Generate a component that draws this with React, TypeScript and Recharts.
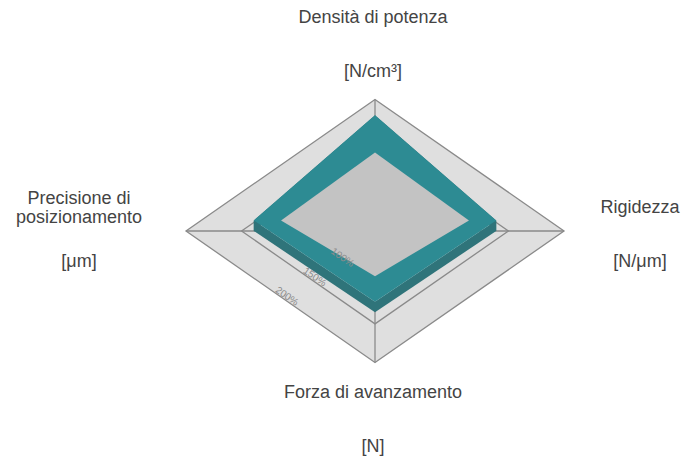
import { RadarChart, Radar, PolarAngleAxis, PolarRadiusAxis } from 'recharts'

// assi del radar (in senso orario dall'alto)
const axes = ['Densità di potenza', 'Rigidezza', 'Forza di avanzamento', 'Precisione di posizionamento']
const units = ['[N/cm³]', '[N/μm]', '[N]', '[μm]']

// valori in % (stimati dal grafico)
const nuovo = [166, 139, 135, 139]
const attuale = [118, 114.5, 102, 114.5]

// anelli della griglia
const rings = [200, 150, 100]

const W = 685
const H = 456
const CX = 375
const CY = 231
const R = 189
const SQUASH = 0.696 // vista in prospettiva: asse verticale schiacciato
const LIFT = 10.5 // spessore della lastra
const FONT = '"Liberation Sans", Arial, Helvetica, sans-serif'

// posizione delle etichette degli assi rispetto al centro
const LABEL_POS: [number, number][] = [[-2, -182], [265, 8], [-2, 193], [-296, 8]]

const data = axes.map((name, i) => {
  const row: Record<string, string | number> = { name, nuovo: nuovo[i], attuale: attuale[i] }
  rings.forEach(r => { row['r' + r] = r })
  return row
})

type Pt = { x: number; y: number; cx?: number; cy?: number }

const flat = (p: Pt, lift = 0) => {
  const cy = p.cy ?? CY
  return { x: p.x, y: cy + (p.y - cy) * SQUASH - lift }
}
const toStr = (pts: { x: number; y: number }[]) => pts.map(p => `${p.x},${p.y}`).join(' ')

function wrap(text: string, max: number) {
  const out: string[] = []
  let cur = ''
  text.split(' ').forEach(w => {
    const next = cur ? cur + ' ' + w : w
    if (next.length > max && cur) { out.push(cur); cur = w } else cur = next
  })
  if (cur) out.push(cur)
  return out
}

const gridShape = (outer: boolean) => (props: any) => {
  const pts = (props.points as Pt[]).map(p => flat(p))
  const c = props.points[0]
  const cx = c?.cx ?? CX
  const cy = c?.cy ?? CY
  return (
    <g>
      <polygon points={toStr(pts)} fill={outer ? '#dfdfdf' : 'none'} stroke="#8a8a8a" strokeWidth={1.3} />
      {outer && pts.map((p, i) => (
        <line key={i} x1={cx} y1={cy} x2={p.x} y2={p.y} stroke="#8a8a8a" strokeWidth={1.3} />
      ))}
    </g>
  )
}

const slabShape = (props: any) => {
  const raw = props.points as Pt[]
  const base = raw.map(p => flat(p))
  const top = raw.map(p => flat(p, LIFT))
  return (
    <g>
      {base.map((_, i) => {
        const j = (i + 1) % base.length
        return <polygon key={i} points={toStr([top[i], top[j], base[j], base[i]])} fill="#2f747a" />
      })}
      <polygon points={toStr(top)} fill="#2d8b93" />
    </g>
  )
}

const capShape = (props: any) => {
  const top = (props.points as Pt[]).map(p => flat(p, LIFT))
  return <polygon points={toStr(top)} fill="#c3c3c3" />
}

// etichetta dell'anello sul lato in basso a sinistra
const ringLabel = (value: number) => (props: any) => {
  const pts = (props.points as Pt[]).map(p => flat(p))
  const a = pts[3]
  const b = pts[2]
  const mx = (a.x + b.x) / 2
  const my = (a.y + b.y) / 2
  const ang = (Math.atan2(b.y - a.y, b.x - a.x) * 180) / Math.PI
  return (
    <text
      x={mx}
      y={my}
      dx={5}
      dy={-1}
      transform={`rotate(${ang}, ${mx}, ${my})`}
      textAnchor="middle"
      fontFamily={FONT}
      fontSize={10}
      fill="#8c8c8c"
    >
      {value}%
    </text>
  )
}

function AxisLabel(props: any) {
  const { payload } = props
  const i = axes.indexOf(payload.value)
  const [ox, oy] = LABEL_POS[i]
  const ax = CX + ox
  const ay = CY + oy
  const lines = wrap(payload.value, 20)
  const lh = 19
  const titleY = ay - 26 - ((lines.length - 1) * lh) / 2
  return (
    <g>
      <text textAnchor="middle" fontFamily={FONT} fontSize={18} fill="#444">
        {lines.map((l, k) => (
          <tspan key={k} x={ax} y={titleY + k * lh}>{l}</tspan>
        ))}
      </text>
      <text x={ax} y={ay + 28} textAnchor="middle" fontFamily={FONT} fontSize={18} fill="#444">
        {units[i]}
      </text>
    </g>
  )
}

export default function App() {
  return (
    <div style={{ position: 'absolute', left: 0, top: 0, width: W, height: H, background: '#fff' }}>
      <RadarChart
        width={W}
        height={H}
        data={data}
        cx={CX}
        cy={CY}
        outerRadius={R}
        margin={{ top: 0, right: 0, bottom: 0, left: 0 }}
      >
        <PolarAngleAxis dataKey="name" tick={<AxisLabel />} tickLine={false} axisLine={false} />
        <PolarRadiusAxis domain={[30, 200]} tick={false} axisLine={false} />
        <Radar dataKey="r200" isAnimationActive={false} shape={gridShape(true)} dot={false} legendType="none" />
        <Radar dataKey="r150" isAnimationActive={false} shape={gridShape(false)} dot={false} legendType="none" />
        <Radar dataKey="r100" isAnimationActive={false} shape={gridShape(false)} dot={false} legendType="none" />
        <Radar dataKey="nuovo" isAnimationActive={false} shape={slabShape} dot={false} legendType="none" />
        <Radar dataKey="attuale" isAnimationActive={false} shape={capShape} dot={false} legendType="none" />
        {rings.map(r => (
          <Radar key={r} dataKey={'r' + r} isAnimationActive={false} shape={ringLabel(r)} dot={false} legendType="none" />
        ))}
      </RadarChart>
    </div>
  )
}
